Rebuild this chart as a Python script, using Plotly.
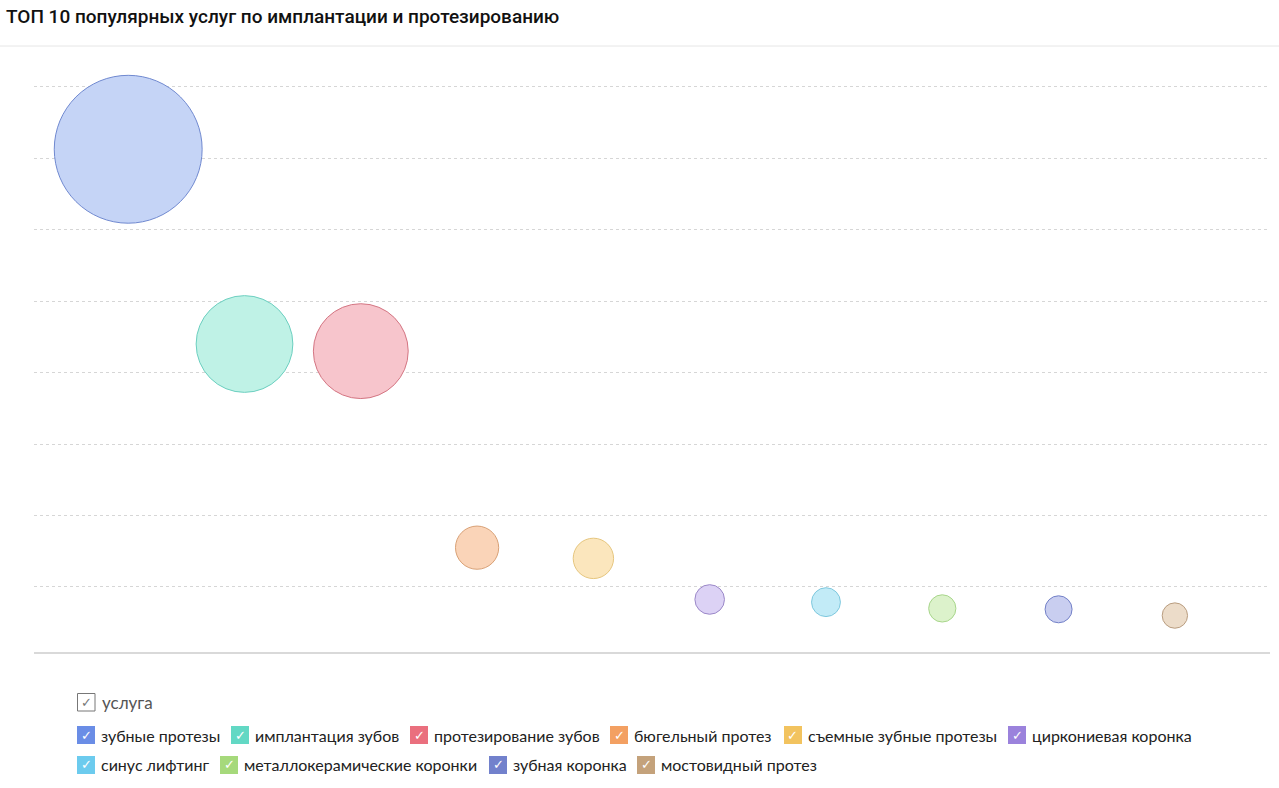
import plotly.graph_objects as go

# ---- data ----
services = ["зубные протезы", "имплантация зубов", "протезирование зубов",
            "бюгельный протез", "съемные зубные протезы", "циркониевая коронка",
            "синус лифтинг", "металлокерамические коронки", "зубная коронка",
            "мостовидный протез"]
values = [31500, 20600, 20200, 9200, 8600, 6300, 6150, 5800, 5750, 5400]
base_colors = ["#6a8de6", "#62d8c4", "#ea6f7e", "#f3a062", "#f2c35f",
               "#9b82dc", "#6ccbee", "#a6d97b", "#7281cc", "#c4a27b"]
fill_colors = ["#c5d4f6", "#bff2e6", "#f7c5cc", "#fad4b8", "#fbe6bd",
               "#dcd2f5", "#c2ebf7", "#dcf2cb", "#c9cef0", "#ecdcc9"]
line_colors = ["#7089d0", "#6ccfc0", "#d47683", "#d9a176", "#e6c67e",
               "#9b88c8", "#7ec8de", "#a8d68b", "#7280c7", "#b99d80"]
grid_ticks = [7000, 11000, 15000, 19000, 23000, 27000, 31000, 35000]
legend_title = "услуга"
title = "ТОП 10 популярных услуг по имплантации и протезированию"

W, H = 1279, 788
L, R, T, B = 34, 9, 51, 135
PW, PH = W - L - R, H - T - B

fig = go.Figure()
for i, (name, v) in enumerate(zip(services, values)):
    fig.add_trace(go.Scatter(
        x=[i], y=[v], mode="markers", name=name, showlegend=False,
        marker=dict(size=[v], sizemode="diameter", sizeref=213, opacity=1,
                    color=fill_colors[i],
                    line=dict(color=line_colors[i], width=1)),
        hovertemplate=name + ": %{y}<extra></extra>"))

def px(x):
    return (x - L) / PW

def py(y):
    return (H - B - y) / PH

shapes = []
annotations = []
# separator under title
shapes.append(dict(type="line", xref="paper", yref="paper",
                   x0=px(0), x1=px(W), y0=py(46), y1=py(46),
                   line=dict(color="#e6e6e6", width=1)))
# baseline
shapes.append(dict(type="line", xref="paper", yref="paper",
                   x0=0, x1=1, y0=0, y1=0, line=dict(color="#cccccc", width=1.5)))

# legend header
shapes.append(dict(type="rect", xref="paper", yref="paper",
                   x0=px(77.5), x1=px(95), y0=py(711), y1=py(693.5),
                   line=dict(color="#777777", width=1), fillcolor="white"))
annotations.append(dict(xref="paper", yref="paper", x=px(86.5), y=py(702.5),
                        text="✓", showarrow=False, xanchor="center", yanchor="middle",
                        font=dict(family="DejaVu Sans", size=13, color="#777777")))
annotations.append(dict(xref="paper", yref="paper", x=px(100), y=py(702),
                        text=legend_title, showarrow=False, xanchor="left", yanchor="middle",
                        font=dict(family="Lato", size=17, color="#555555")))

# legend items (layout positions)
item_pos = [(77, 735), (231, 735), (410, 735), (610, 735), (784, 735), (1008, 735),
            (77, 765), (220, 765), (489, 765), (637, 765)]
for i, name in enumerate(services):
    x0, yc = item_pos[i]
    shapes.append(dict(type="rect", xref="paper", yref="paper",
                       x0=px(x0), x1=px(x0 + 18), y0=py(yc + 9), y1=py(yc - 9),
                       line=dict(width=0), fillcolor=base_colors[i]))
    annotations.append(dict(xref="paper", yref="paper", x=px(x0 + 9), y=py(yc),
                            text="✓", showarrow=False, xanchor="center", yanchor="middle",
                            font=dict(family="DejaVu Sans", size=13, color="white")))
    annotations.append(dict(xref="paper", yref="paper", x=px(x0 + 22), y=py(yc),
                            text=name, showarrow=False, xanchor="left", yanchor="middle",
                            font=dict(family="Lato", size=16, color="#222222")))

fig.update_layout(
    width=W, height=H,
    margin=dict(l=L, r=R, t=T, b=B),
    paper_bgcolor="white", plot_bgcolor="white",
    title=dict(text=title, x=6 / W, xanchor="left", xref="container",
               y=1 - 16 / H, yanchor="middle",
               font=dict(family="Roboto", size=19, color="#111111", weight=500)),
    xaxis=dict(range=[-0.81, 9.818], showgrid=False, zeroline=False,
               showticklabels=False, showline=False, fixedrange=True),
    yaxis=dict(range=[3304, 37000], tickvals=grid_ticks, showgrid=True,
               gridcolor="#d6d6d6", griddash="3px,3px", gridwidth=1,
               zeroline=False, showticklabels=False, showline=False, fixedrange=True),
    shapes=shapes, annotations=annotations, showlegend=False,
)

fig.write_html("out.html")
